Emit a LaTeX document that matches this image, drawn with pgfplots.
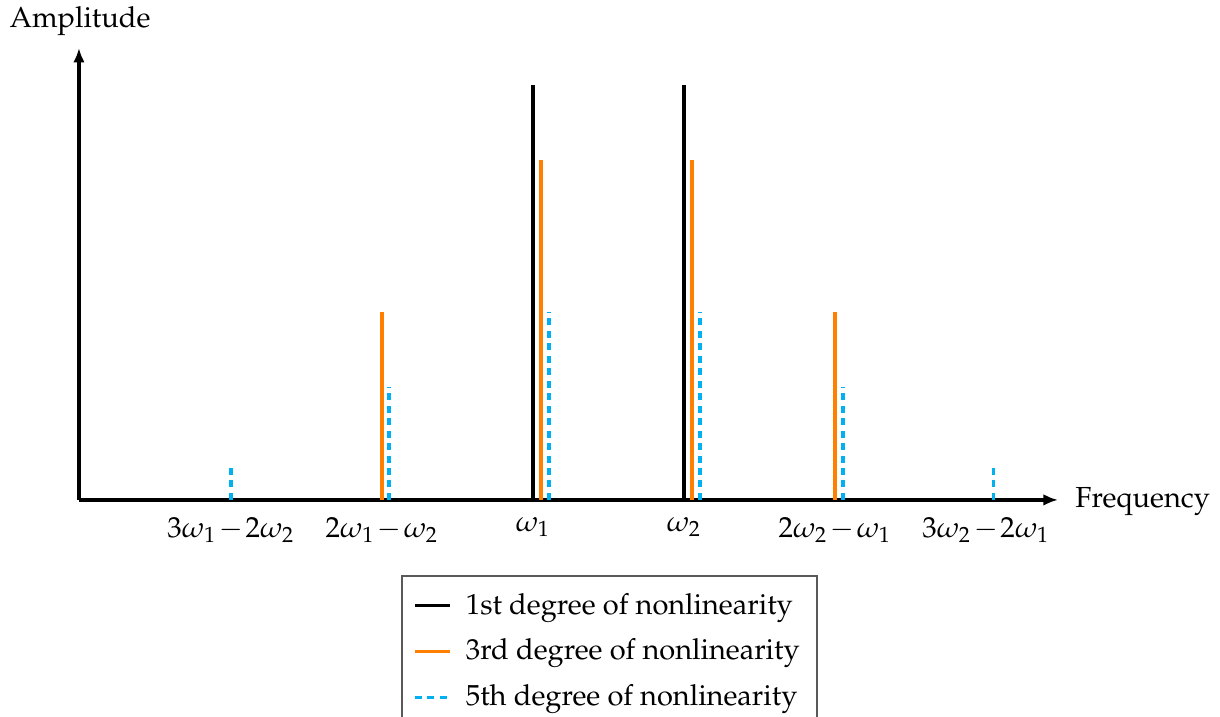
\documentclass[border=0pt]{standalone}
\usepackage[T1]{fontenc}
\usepackage{mathpazo}
\usepackage{pgfplots}
\pgfplotsset{compat=1.18}
\usetikzlibrary{arrows.meta}

\definecolor{thirdorder}{RGB}{255,127,0}
\definecolor{fifthorder}{RGB}{0,176,240}

% tighter minus for the intermodulation labels
\newcommand{\mi}{\mskip1.5mu{-}\mskip1.5mu}

% short horizontal stroke as legend image for the comb plots
\pgfplotsset{shortline/.style={legend image code/.code={\draw[##1] (0cm,0cm) -- (0.42cm,0cm);}}}

\begin{document}
\begin{tikzpicture}
\begin{axis}[
  x=52.07pt, y=34.48pt,
  xmin=-3.007, xmax=3.477,
  ymin=0, ymax=4.52,
  axis lines=left,
  axis line style={line width=1.1pt, -{Latex[length=5pt,width=4pt]}},
  clip=false,
  xtick={-2,-1,0,1,2,3},
  xticklabels={$3\omega_1\mi2\omega_2$, $2\omega_1\mi\omega_2$, $\omega_1$,
               $\omega_2$, $2\omega_2\mi\omega_1$, $3\omega_2\mi2\omega_1$},
  ytick=\empty,
  major tick length=0pt,
  xticklabel style={yshift=-2.5pt},
  legend cell align=left,
  legend style={at={(0.5419,-0.166)}, anchor=north,
    draw=gray!70!black, line width=0.6pt,
    inner xsep=4pt, inner ysep=4pt,
    row sep=3pt, column sep=3pt},
]
  \addplot[ycomb, black, line width=1.1pt, shortline]
    coordinates {(0,4.15) (1,4.15)};
  \addlegendentry{1st degree of nonlinearity}

  \addplot[ycomb, thirdorder, line width=1.1pt, shortline]
    coordinates {(-1,1.88) (0.053,3.40) (1.053,3.40) (2,1.88)};
  \addlegendentry{3rd degree of nonlinearity}

  \addplot[ycomb, fifthorder, line width=1.1pt, dash pattern=on 2.4pt off 1.9pt, shortline]
    coordinates {(-2,0.35) (-0.954,1.13) (0.106,1.88) (1.106,1.88) (2.053,1.13) (3.05,0.35)};
  \addlegendentry{5th degree of nonlinearity}

  \node[anchor=base] at (axis cs:-3.0,4.72) {Amplitude};
  \node[anchor=base west, inner sep=0pt] at (axis cs:3.589,-0.08) {Frequency};

  \coordinate (bbSW) at (axis cs:-3.530,-2.17);
  \coordinate (bbNE) at (axis cs:4.550,5.00);
\end{axis}
\pgfresetboundingbox
\path[use as bounding box] (bbSW) rectangle (bbNE);
\end{tikzpicture}
\end{document}
